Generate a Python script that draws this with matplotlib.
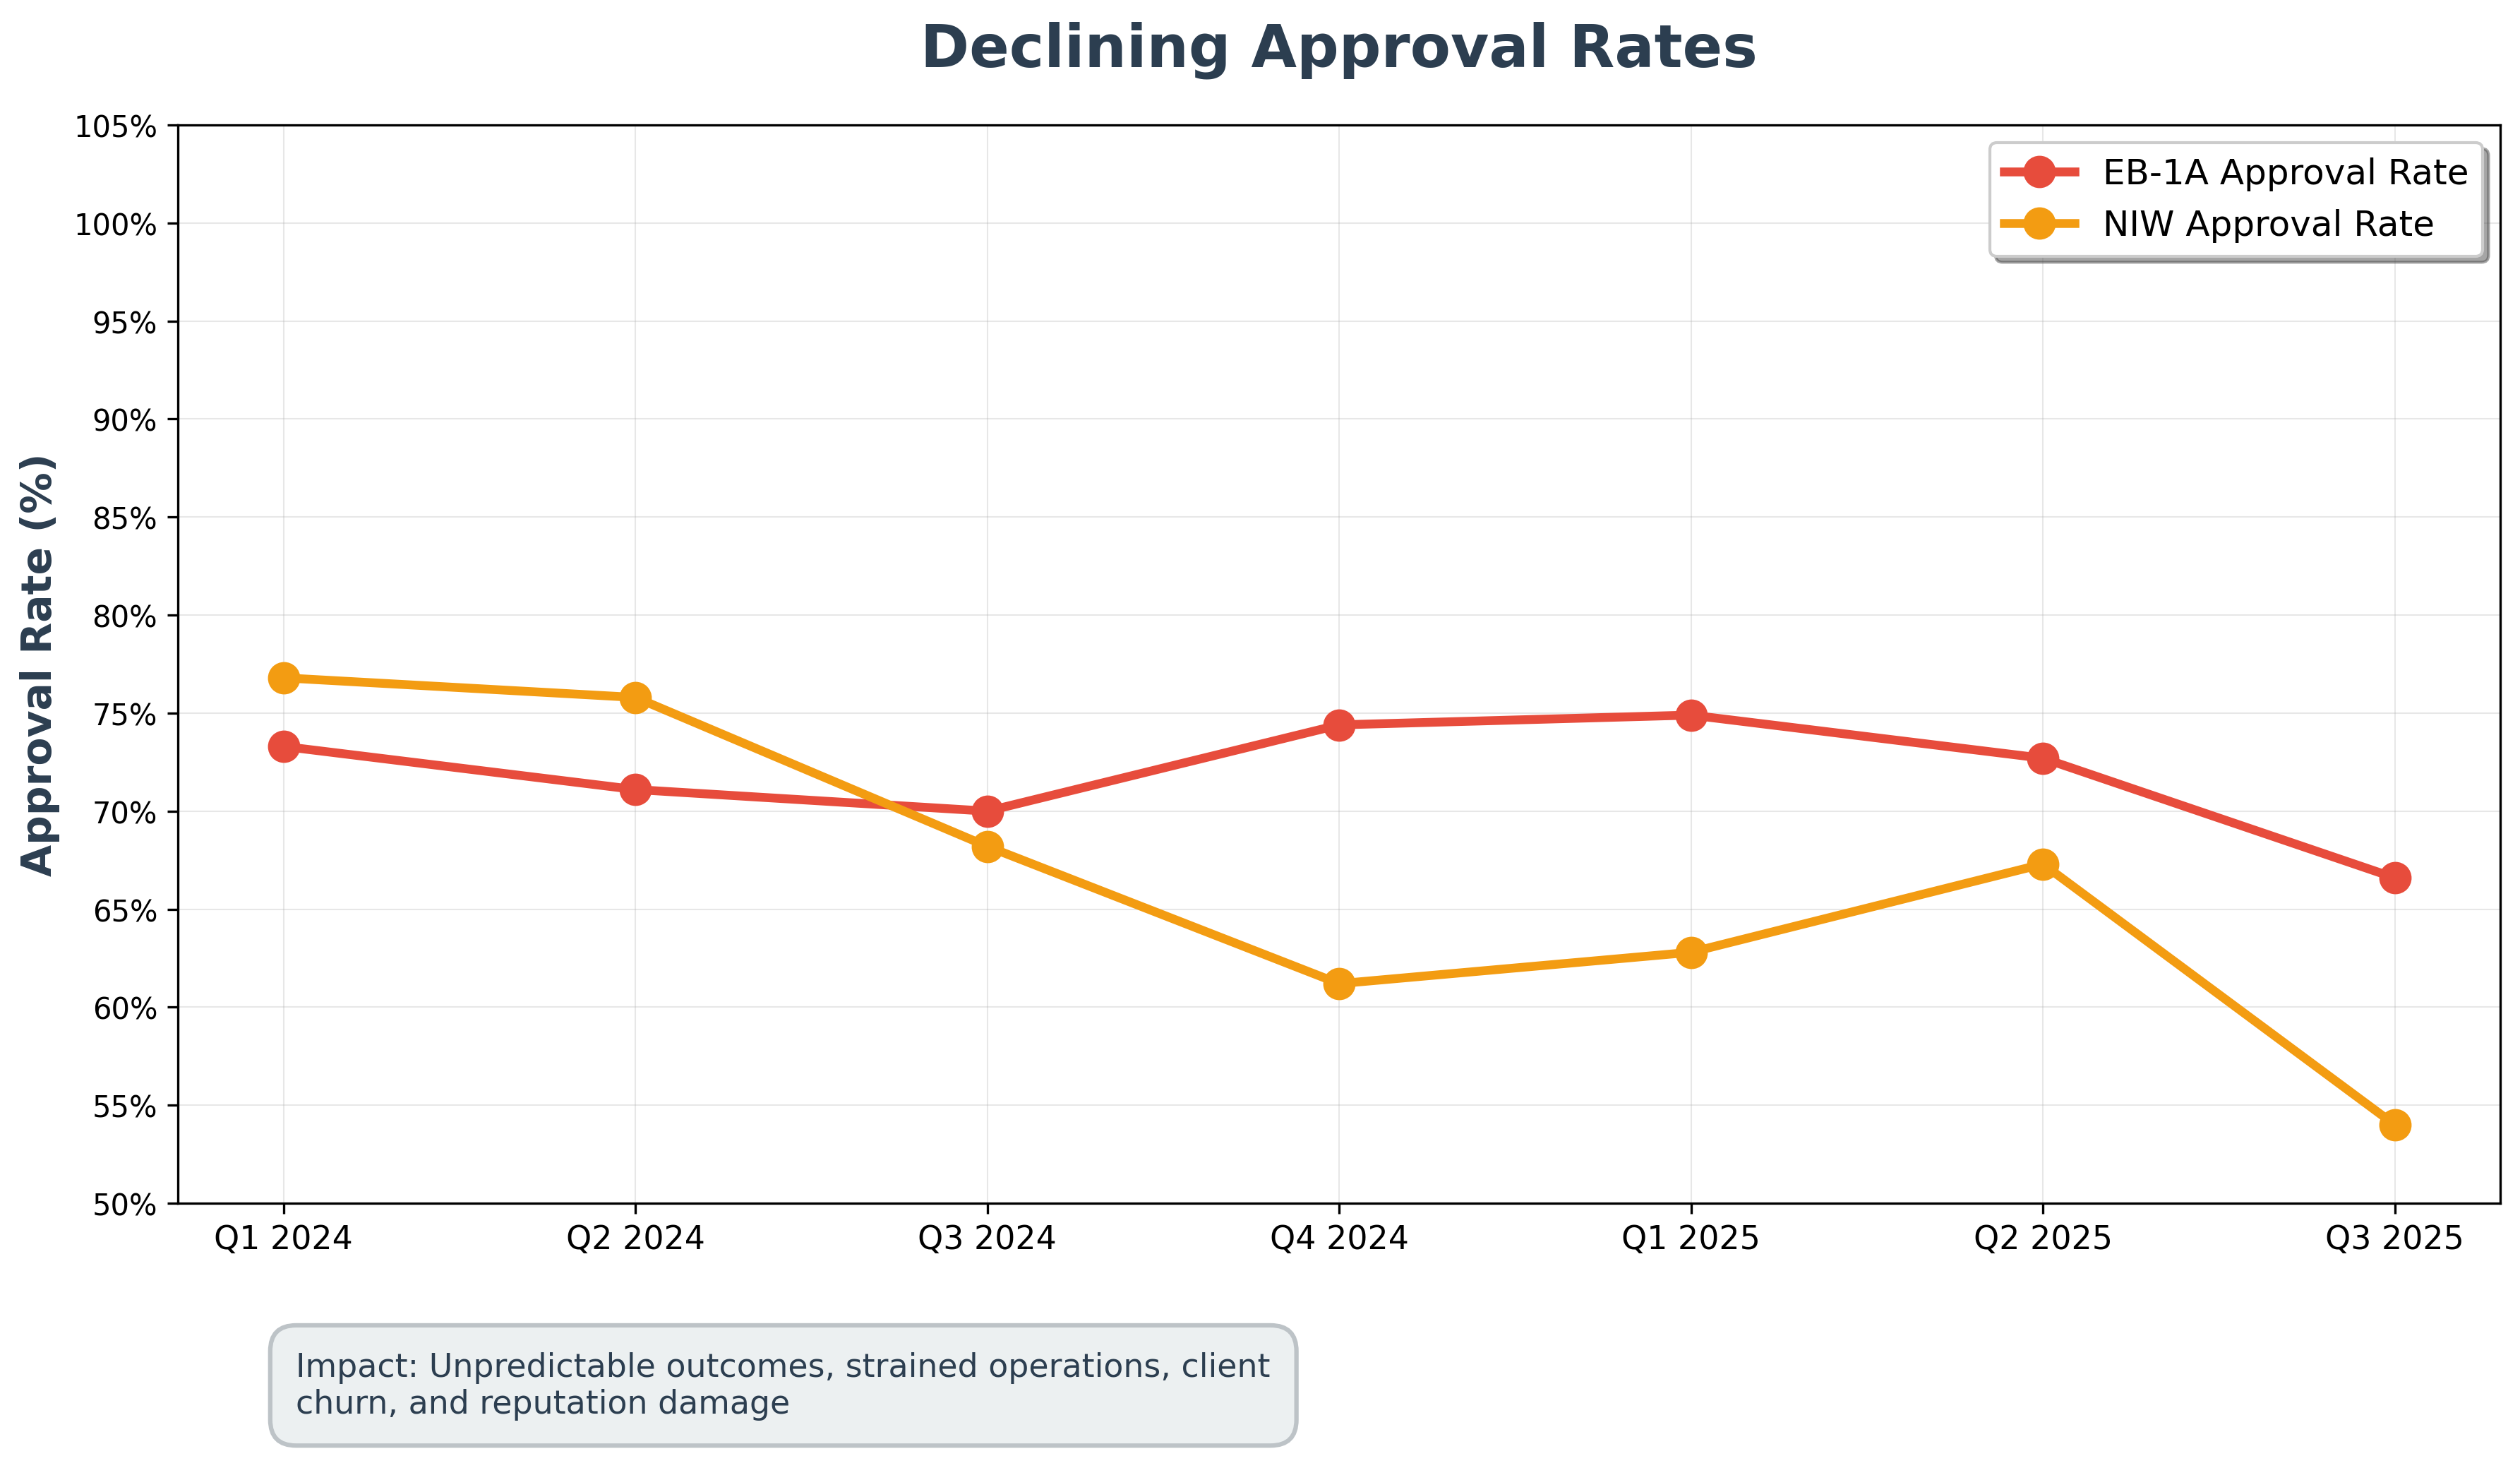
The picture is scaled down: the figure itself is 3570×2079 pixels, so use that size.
import numpy as np
import matplotlib.pyplot as plt
from matplotlib.ticker import FuncFormatter

# data
quarters = ['Q1 2024', 'Q2 2024', 'Q3 2024', 'Q4 2024', 'Q1 2025', 'Q2 2025', 'Q3 2025']
eb1a_rate = [73.3, 71.1, 70.0, 74.4, 74.9, 72.7, 66.6]
niw_rate = [76.8, 75.8, 68.2, 61.2, 62.8, 67.3, 54.0]
y_ticks = list(range(50, 106, 5))

impact_note = ('Impact: Unpredictable outcomes, strained operations, client\n'
               'churn, and reputation damage')

fig = plt.figure(figsize=(11.9, 6.9333), dpi=300)
ax = fig.add_axes([0.0707, 0.1803, 0.9215, 0.7341])

x = np.arange(len(quarters))
ax.plot(x, eb1a_rate, color='#e74c3c', linewidth=3, marker='o', markersize=10,
        label='EB-1A Approval Rate')
ax.plot(x, niw_rate, color='#f39c12', linewidth=3, marker='o', markersize=10,
        label='NIW Approval Rate')

ax.set_xticks(x)
ax.set_xticklabels(quarters, fontsize=11)
ax.set_ylim(50, 105)
ax.set_yticks(y_ticks)
ax.yaxis.set_major_formatter(FuncFormatter(lambda v, p: f'{v:.0f}%'))
ax.tick_params(axis='y', labelsize=10)
ax.grid(True, alpha=0.3, linewidth=0.5)

ax.set_title('Declining Approval Rates', fontsize=20, fontweight='bold',
             color='#2c3e50', pad=20)
ax.set_ylabel('Approval Rate (%)', fontsize=14, fontweight='bold',
              color='#2c3e50', labelpad=4.5)

ax.legend(loc='upper right', fontsize=12, shadow=True, fancybox=True)

fig.text(0.1175, 0.0562, impact_note, fontsize=11, color='#2c3e50',
         ha='left', va='center',
         bbox=dict(boxstyle='round,pad=0.8', facecolor='#ecf0f1',
                   edgecolor='#bdc3c7', linewidth=1.5))

fig.savefig('out.png', dpi=300)
